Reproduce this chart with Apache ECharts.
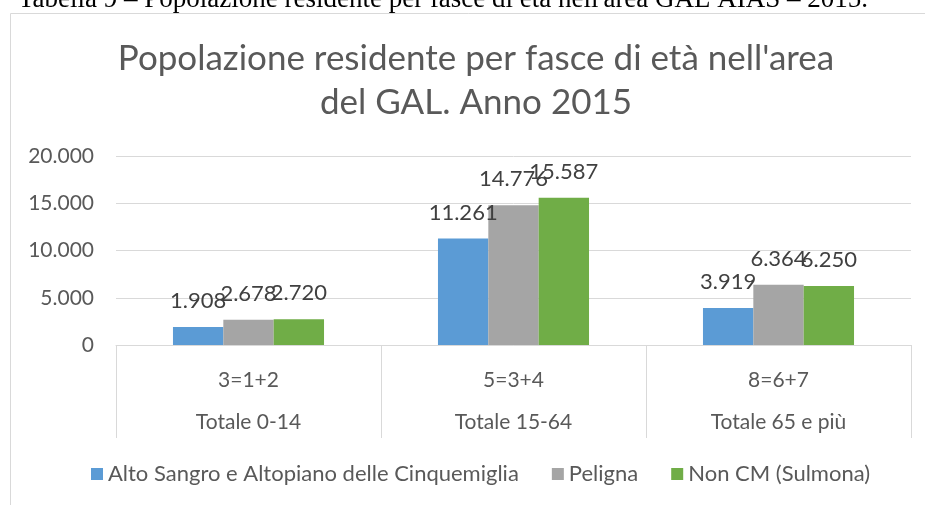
<!DOCTYPE html>
<html><head><meta charset="utf-8">
<script src="https://cdn.jsdelivr.net/npm/echarts@6/dist/echarts.min.js"></script>
<style>html,body{margin:0;padding:0;background:#fff}#c{width:925px;height:505px}</style>
</head><body><div id="c"></div>
<script>
const codes = ['3=1+2', '5=3+4', '8=6+7'];
const groups = ['Totale 0-14', 'Totale 15-64', 'Totale 65 e più'];
const seriesNames = ['Alto Sangro e Altopiano delle Cinquemiglia', 'Peligna', 'Non CM (Sulmona)'];
const altoSangro = [1908, 11261, 3919];
const peligna = [2678, 14776, 6364];
const nonCM = [2720, 15587, 6250];
const colors = ['#5b9bd5', '#a5a5a5', '#70ad47'];

const fmt = v => String(v).replace(/\B(?=(\d{3})+(?!\d))/g, '.');
const font = 'Lato, "Open Sans", sans-serif';

const chart = echarts.init(document.getElementById('c'));
const mk = (name, data, i) => ({
  name, type: 'bar', data, barGap: '0%', barCategoryGap: '43%',
  itemStyle: { color: colors[i] },
  label: { show: true, position: 'top', distance: 15, formatter: p => fmt(p.value),
    color: '#404040', fontSize: 22, fontFamily: font }
});
chart.setOption({
  animation: false,
  title: { text: 'Popolazione residente per fasce di età nell\'area\ndel GAL. Anno 2015',
    left: 471, top: 32, textAlign: 'center',
    textStyle: { fontSize: 35, fontWeight: 'normal', color: '#595959', fontFamily: font, lineHeight: 44 } },
  graphic: [
    { type: 'rect', shape: { x: 10.5, y: 13.5, width: 940, height: 520 }, style: { fill: 'none', stroke: '#d9d9d9', lineWidth: 1 }, z: -1 },
    { type: 'text', x: 443, y: 0, style: { text: 'Tabella 9 – Popolazione residente per fasce di età nell\'area GAL AIAS – 2015.',
      font: '27px "Liberation Serif", "Times New Roman", serif', fill: '#000', textAlign: 'center', textVerticalAlign: 'middle' } }
  ],
  legend: { bottom: 15, left: 86, itemWidth: 12, itemHeight: 12, itemGap: 33,
    icon: 'rect', textStyle: { fontSize: 22, color: '#595959', fontFamily: font } },
  grid: { left: 116, right: 14, top: 156, bottom: 160 },
  xAxis: { type: 'category', data: codes.map((c, i) => c + '\n\n' + groups[i]),
    axisLine: { lineStyle: { color: '#d9d9d9' } },
    axisTick: { show: true, length: 93, lineStyle: { color: '#d9d9d9' } },
    axisLabel: { color: '#595959', fontSize: 21, fontFamily: font, margin: 25, lineHeight: 21 } },
  yAxis: { type: 'value', min: 0, max: 20000, interval: 5000,
    axisLabel: { color: '#595959', fontSize: 21, fontFamily: font, margin: 22, formatter: v => fmt(v) },
    splitLine: { lineStyle: { color: '#d9d9d9' } } },
  series: [mk(seriesNames[0], altoSangro, 0), mk(seriesNames[1], peligna, 1), mk(seriesNames[2], nonCM, 2)]
});
</script></body></html>
